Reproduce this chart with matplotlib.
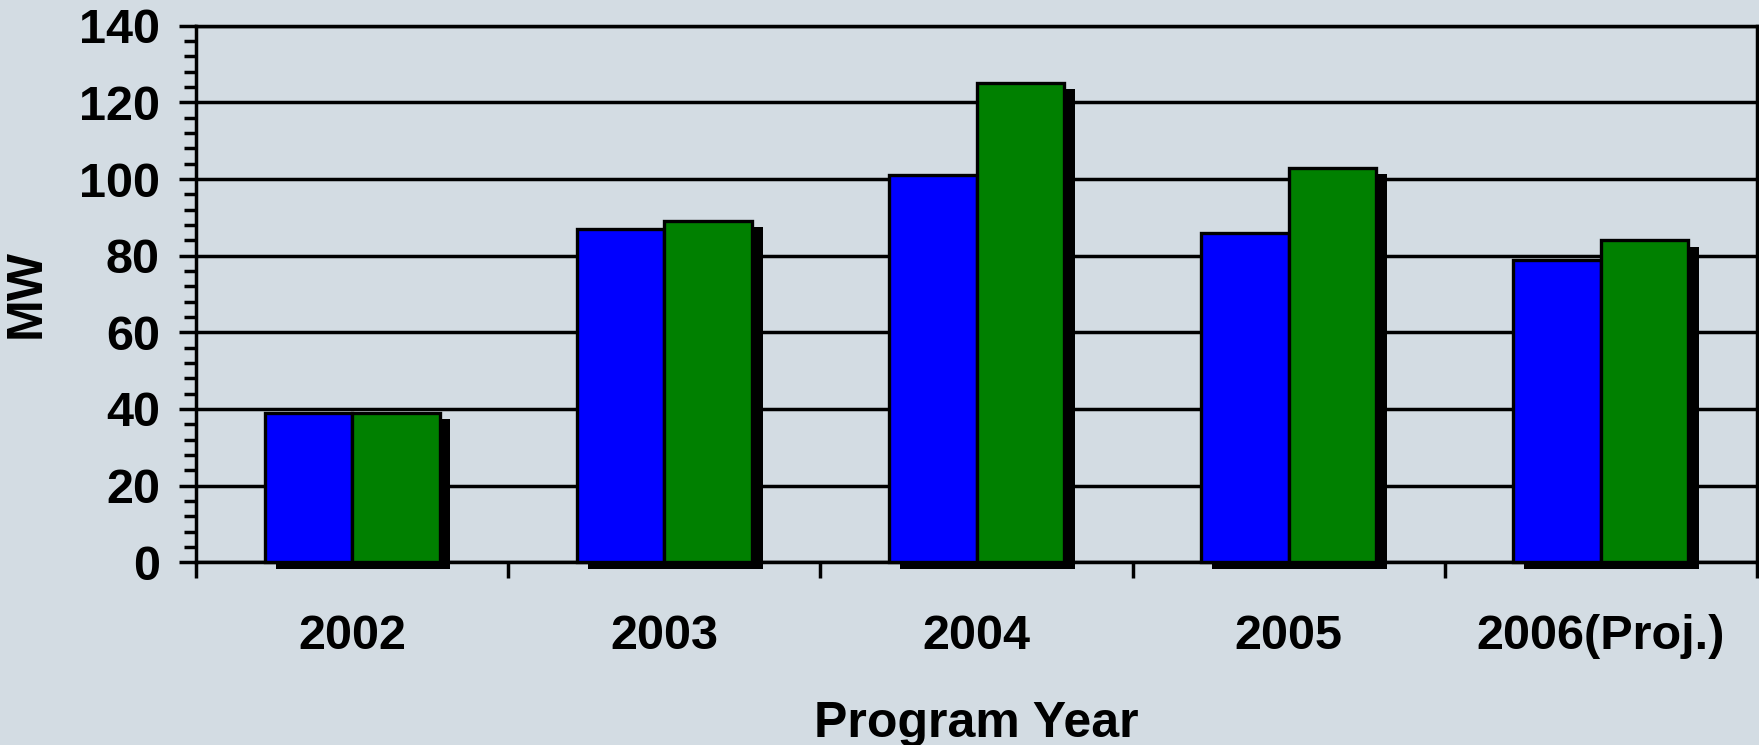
import matplotlib
matplotlib.use("Agg")
import matplotlib.pyplot as plt
import matplotlib.patheffects as pe
from matplotlib.ticker import MultipleLocator
import numpy as np

# ---- data ----
years = ["2002", "2003", "2004", "2005", "2006(Proj.)"]
series_blue = [39, 87, 101, 86, 79]
series_green = [39, 89, 125, 103, 84]
y_ticks = [0, 20, 40, 60, 80, 100, 120, 140]

BG = "#D3DCE3"
plt.rcParams['font.family'] = ['Liberation Sans', 'DejaVu Sans']
plt.rcParams['font.weight'] = 'bold'

W, H = 1759, 745
fig = plt.figure(figsize=(W / 100, H / 100), dpi=100, facecolor=BG)
ax = fig.add_axes([196 / W, 1 - 562.3 / H, (1757 - 196) / W, (562.3 - 25.7) / H])
ax.set_facecolor(BG)

x = np.arange(len(years))
w = 0.28
shadow = [pe.SimplePatchShadow(offset=(7.9, -4.5), shadow_rgbFace='black', alpha=1), pe.Normal()]
b1 = ax.bar(x - w / 2, series_blue, w, color='#0000FF', edgecolor='black',
            linewidth=2.4, zorder=3, clip_on=False)
b2 = ax.bar(x + w / 2, series_green, w, color='#008000', edgecolor='black',
            linewidth=2.4, zorder=3, clip_on=False)
for p in list(b1) + list(b2):
    p.set_path_effects(shadow)

ax.set_ylim(0, 140)
ax.set_xlim(-0.5, len(years) - 0.5)
ax.set_yticks(y_ticks)
ax.set_yticklabels([str(v) for v in y_ticks])
ax.yaxis.set_minor_locator(MultipleLocator(4))
ax.set_axisbelow(True)
ax.yaxis.grid(True, which='major', color='black', linewidth=2.5)

ax.set_xticks(np.arange(-0.5, len(years), 1.0))
ax.set_xticklabels([])
ax.set_xticks(x, minor=True)
ax.set_xticklabels(years, minor=True)

ax.tick_params(axis='y', which='major', length=12, width=2.5, direction='out',
               pad=14, labelsize=35, colors='black')
ax.tick_params(axis='y', which='minor', length=9, width=2.5, direction='out')
ax.tick_params(axis='x', which='major', length=11.5, width=2.5, direction='out')
ax.tick_params(axis='x', which='minor', length=0, pad=37.5, labelsize=35)

for s in ax.spines.values():
    s.set_color('black')
    s.set_linewidth(2.5)

ax.set_xlabel("Program Year", fontsize=36, fontweight='bold', labelpad=30)
ax.set_ylabel("MW", fontsize=36, fontweight='bold', labelpad=21)

fig.savefig("out.png", dpi=100, facecolor=BG)
